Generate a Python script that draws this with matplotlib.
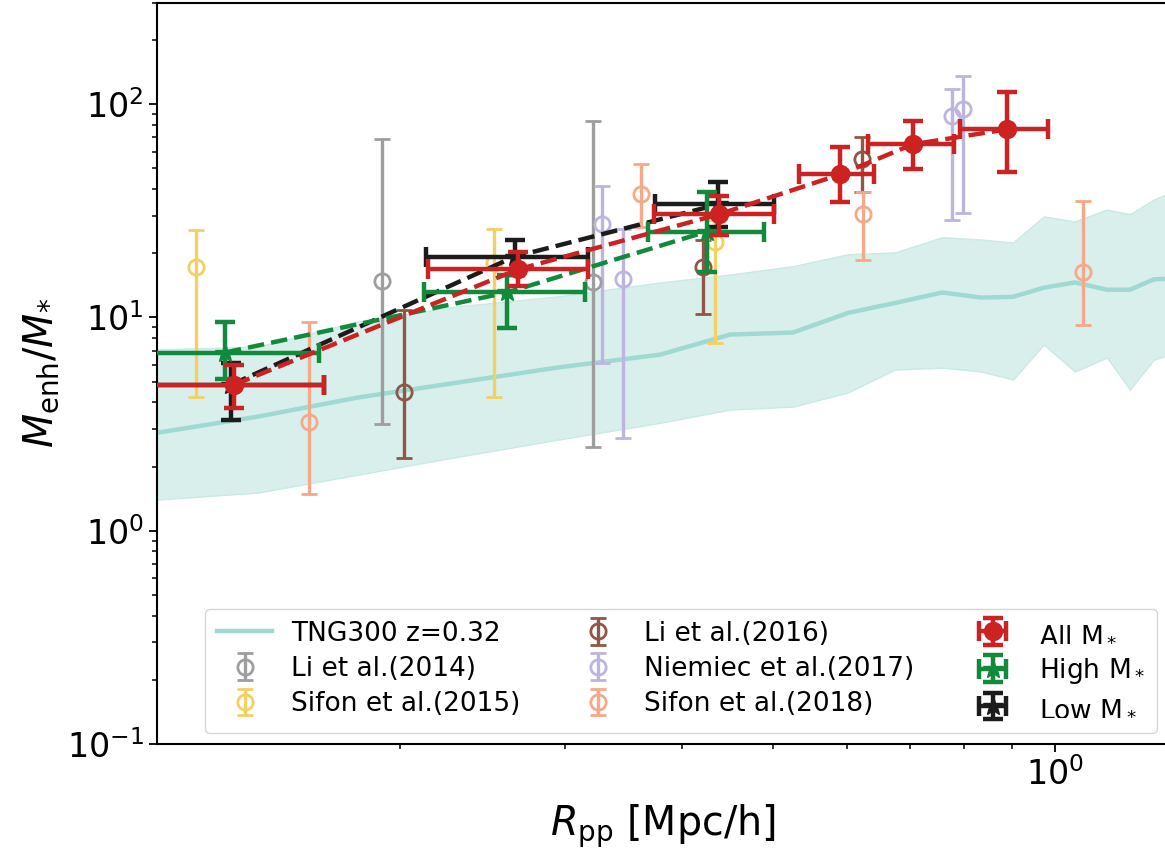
import numpy as np
import matplotlib
matplotlib.use("Agg")
import matplotlib.pyplot as plt

# ---------------- data ----------------
# TNG300 z=0.32 median and scatter band
tng_r = [0.110, 0.141, 0.180, 0.230, 0.294, 0.379, 0.450, 0.525, 0.601, 0.675,
         0.758, 0.834, 0.902, 0.973, 1.050, 1.136, 1.202, 1.275, 1.327]
tng_med = [2.88, 3.43, 4.21, 4.95, 5.82, 6.70, 8.32, 8.50, 10.5, 11.7,
           13.1, 12.4, 12.5, 13.8, 14.6, 13.5, 13.5, 15.1, 15.2]
tng_hi = [7.08, 7.31, 9.57, 11.27, 12.55, 14.6, 15.9, 17.4, 19.8, 20.2,
          23.8, 23.2, 22.5, 29.8, 28.2, 32.1, 30.5, 35.8, 38.6]
tng_lo = [1.40, 1.51, 1.83, 2.22, 2.67, 3.21, 3.70, 3.82, 4.45, 5.70,
          5.82, 5.58, 5.12, 7.47, 5.58, 6.49, 4.59, 6.35, 6.70]

# Observations: x, y, lower bound, upper bound
li14_x = [0.191, 0.321]
li14_y = [14.8, 14.6]
li14_lo = [3.15, 2.48]
li14_hi = [68.5, 83.2]

sif15_x = [0.121, 0.252, 0.434]
sif15_y = [17.2, 18.1, 22.7]
sif15_lo = [4.26, 4.26, 7.63]
sif15_hi = [25.6, 25.9, 28.8]

li16_x = [0.202, 0.421, 0.622]
li16_y = [4.45, 17.2, 55.2]
li16_lo = [2.20, 10.4, 38.6]
li16_hi = [10.9, 23.2, 70.0]

nie17_x = [0.3285, 0.346, 0.776, 0.798]
nie17_y = [27.3, 15.1, 87.8, 94.7]
nie17_lo = [6.15, 2.73, 28.8, 30.8]
nie17_hi = [41.2, 25.9, 117.6, 135.3]

sif18_x = [0.160, 0.361, 0.624, 1.071]
sif18_y = [3.25, 37.8, 30.5, 16.4]
sif18_lo = [1.48, 26.7, 18.7, 9.27]
sif18_hi = [9.57, 52.3, 38.6, 35.1]

# This work: x, x-low, x-high, y, y-low, y-high
all_x = [0.133, 0.267, 0.438, 0.590, 0.705, 0.889]
all_xlo = [0.106, 0.214, 0.373, 0.533, 0.632, 0.792]
all_xhi = [0.166, 0.317, 0.501, 0.641, 0.780, 0.983]
all_y = [4.84, 16.8, 30.5, 46.9, 64.9, 76.3]
all_ylo = [3.78, 14.0, 24.5, 34.7, 49.5, 48.0]
all_yhi = [6.01, 20.2, 37.0, 62.8, 83.2, 113.8]

high_x = [0.130, 0.260, 0.425]
high_xlo = [0.103, 0.212, 0.368]
high_xhi = [0.164, 0.315, 0.489]
high_y = [6.85, 13.1, 25.3]
high_ylo = [5.12, 8.97, 16.4]
high_yhi = [9.48, 15.9, 38.6]

low_x = [0.132, 0.265, 0.437]
low_xlo = [0.105, 0.213, 0.374]
low_xhi = [0.166, 0.317, 0.501]
low_y = [4.84, 19.3, 33.9]
low_ylo = [3.32, 15.9, 26.5]
low_yhi = [6.15, 23.2, 43.0]

# ---------------- figure ----------------
W, H = 1165, 856
fig = plt.figure(figsize=(W / 100, H / 100), dpi=100)
ax = fig.add_axes([157 / W, (856 - 744) / H, 1011 / W, 741.5 / H])
ax.set_xscale("log")
ax.set_yscale("log")
ax.set_xlim(0.11, 1.32)
ax.set_ylim(0.1, 300)

line_c = "#a0d9d2"
fill_c = "#d8efec"
ax.fill_between(tng_r, tng_lo, tng_hi, color=fill_c, lw=1.0, edgecolor="#cbe9e5", zorder=1)
ax.plot(tng_r, tng_med, color=line_c, lw=3.2, label="TNG300 z=0.32", zorder=2)


def obs(x, y, lo, hi, color, label):
    x = np.array(x); y = np.array(y)
    yerr = [y - np.array(lo), np.array(hi) - y]
    ax.errorbar(x, y, yerr=yerr, fmt="o", mfc="none", mec=color, ms=11, mew=2,
                ecolor=color, elinewidth=2.4, capsize=6, capthick=2.4,
                label=label, zorder=3)


obs(li14_x, li14_y, li14_lo, li14_hi, "#9e9e9e", "Li et al.(2014)")
obs(sif15_x, sif15_y, sif15_lo, sif15_hi, "#f3d062", "Sifon et al.(2015)")
obs(li16_x, li16_y, li16_lo, li16_hi, "#8e5746", "Li et al.(2016)")
obs(nie17_x, nie17_y, nie17_lo, nie17_hi, "#bdb5df", "Niemiec et al.(2017)")
obs(sif18_x, sif18_y, sif18_lo, sif18_hi, "#f6a98a", "Sifon et al.(2018)")


def main(x, xlo, xhi, y, ylo, yhi, color, marker, ms, label, z):
    x = np.array(x); y = np.array(y)
    xerr = [x - np.array(xlo), np.array(xhi) - x]
    yerr = [y - np.array(ylo), np.array(yhi) - y]
    ax.plot(x, y, ls="--", color=color, lw=3.2, zorder=z)
    ax.errorbar(x, y, xerr=xerr, yerr=yerr, fmt=marker, color=color, ms=ms,
                elinewidth=3.2, capsize=7.5, capthick=3.2, label=label, zorder=z)


main(low_x, low_xlo, low_xhi, low_y, low_ylo, low_yhi, "#1c1c1c", "*", 15, "Low M$_*$", 4)
main(high_x, high_xlo, high_xhi, high_y, high_ylo, high_yhi, "#118a3b", "*", 15, "High M$_*$", 5)
main(all_x, all_xlo, all_xhi, all_y, all_ylo, all_yhi, "#cc2222", "o", 13, "All M$_*$", 6)

# axes styling
for s in ax.spines.values():
    s.set_linewidth(1.5)
ax.tick_params(which="major", length=6, width=1.3, labelsize=24)
ax.tick_params(which="minor", length=3.5, width=1.1)
ax.set_xlabel(r"$R_{\rm pp}$ [Mpc/h]", fontsize=28.5, labelpad=8)
ax.set_ylabel(r"$M_{\rm enh}/M_{*}$", fontsize=28.5, labelpad=4)

handles, labels = ax.get_legend_handles_labels()
order = ["TNG300 z=0.32", "Li et al.(2014)", "Sifon et al.(2015)",
         "Li et al.(2016)", "Niemiec et al.(2017)", "Sifon et al.(2018)",
         "All M$_*$", "High M$_*$", "Low M$_*$"]
hmap = dict(zip(labels, handles))
leg = ax.legend([hmap[l] for l in order], order, ncol=3, fontsize=19,
                loc="lower left", mode="expand",
                bbox_to_anchor=(205 / W, (856 - 733) / H, (1157 - 205) / W, (733 - 604) / H),
                bbox_transform=fig.transFigure, handlelength=2.1, handletextpad=0.7,
                labelspacing=0.35, borderpad=0.45, borderaxespad=0)

fig.savefig("out.png", dpi=100)
